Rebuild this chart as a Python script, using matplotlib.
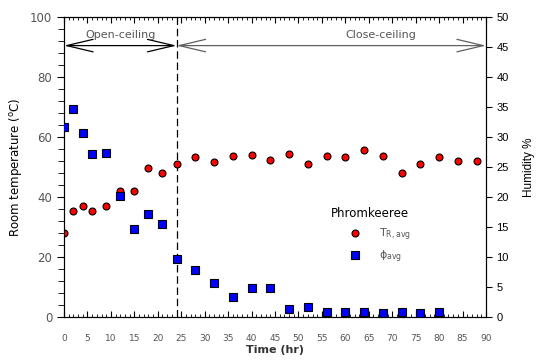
import matplotlib.pyplot as plt
from matplotlib.lines import Line2D
from matplotlib.ticker import MultipleLocator

# Temperature (left axis)
t_temp = [0, 2, 4, 6, 9, 12, 15, 18, 21, 24, 28, 32, 36, 40, 44, 48, 52, 56, 60, 64, 68, 72, 76, 80, 84, 88]
temp = [28.1, 35.3, 37.1, 35.2, 36.9, 41.9, 41.9, 49.6, 48.0, 50.9, 53.2, 51.8, 53.7, 53.9, 52.3,
        54.4, 51.0, 53.7, 53.3, 55.6, 53.7, 48.0, 51.0, 53.3, 52.1, 52.0]

# Humidity (right axis)
t_hum = [0, 2, 4, 6, 9, 12, 15, 18, 21, 24, 28, 32, 36, 40, 44, 48, 52, 56, 60, 64, 68, 72, 76, 80]
hum = [31.7, 34.7, 30.7, 27.2, 27.4, 20.2, 14.6, 17.1, 15.5, 9.7, 7.9, 5.6, 3.4, 4.9, 4.8,
       1.3, 1.7, 0.9, 0.8, 0.8, 0.75, 0.8, 0.75, 0.85]

fig = plt.figure(figsize=(5.4, 3.64), dpi=100)
ax = fig.add_axes([0.1185, 0.129, 0.7815, 0.824])
ax2 = ax.twinx()

ax.plot(t_temp, temp, 'o', color='red', mec='black', mew=0.8, ms=5, zorder=3)
ax2.plot(t_hum, hum, 's', color='#0000ff', mec='black', mew=0.8, ms=5.5, zorder=3)

ax.set_xlim(0, 90)
ax.set_ylim(0, 100)
ax2.set_ylim(0, 50)

# x ticks
ax.xaxis.set_major_locator(MultipleLocator(5))
ax.xaxis.set_minor_locator(MultipleLocator(1))
ax.tick_params(axis='x', which='both', direction='in', top=True, pad=12,
               labelsize=6.5, labelcolor='#555555')
ax.tick_params(axis='x', which='major', length=4)
ax.tick_params(axis='x', which='minor', length=2.5)

# left y ticks
ax.yaxis.set_major_locator(MultipleLocator(20))
ax.yaxis.set_minor_locator(MultipleLocator(4))
ax.tick_params(axis='y', which='both', direction='out', labelsize=8.5, labelcolor='#555555')
ax.tick_params(axis='y', which='major', length=5)
ax.tick_params(axis='y', which='minor', length=4)

# right y ticks
ax2.yaxis.set_major_locator(MultipleLocator(5))
ax2.tick_params(axis='y', direction='out', length=4, labelsize=8)
for lab in ax2.get_yticklabels():
    lab.set_family('Liberation Sans')

ax.set_xlabel('Time (hr)', fontsize=8, fontweight='bold', color='#333333', labelpad=2)
ax.set_ylabel('Room temperature ($\\mathregular{^oC}$)', fontsize=8.5, labelpad=4)
ax2.set_ylabel('Humidity %', fontsize=8.5, family='Liberation Sans', labelpad=10)

# open / close ceiling markers
ax.axvline(24, color='black', ls=(0, (6, 3)), lw=0.9)
style = '<->,head_length=1.9,head_width=0.45'
ax.annotate('', xy=(0, 90.5), xytext=(24, 90.5),
            arrowprops=dict(arrowstyle=style, color='black', lw=0.9,
                            shrinkA=0, shrinkB=0, mutation_scale=10))
ax.annotate('', xy=(24, 90.5), xytext=(90, 90.5),
            arrowprops=dict(arrowstyle=style, color='#606060', lw=0.9,
                            shrinkA=0, shrinkB=0, mutation_scale=10))
ax.text(12, 94, 'Open-ceiling', ha='center', va='center', fontsize=8, color='#555555')
ax.text(67.5, 94, 'Close-ceiling', ha='center', va='center', fontsize=8, color='#555555')

handles = [Line2D([], [], ls='', marker='o', color='red', mec='black', mew=0.8, ms=5),
           Line2D([], [], ls='', marker='s', color='#0000ff', mec='black', mew=0.8, ms=5.5)]
leg = ax2.legend(handles, ['T$_\\mathregular{R,avg}$', 'ϕ$_\\mathregular{avg}$'], title='Phromkeeree',
                 frameon=False, loc='upper left', bbox_to_anchor=(0.62, 0.385), fontsize=8,
                 title_fontsize=8.5, handletextpad=0.1, labelspacing=0.55, alignment='left',
                 borderpad=0, handlelength=4.2)
for txt in leg.get_texts():
    txt.set_color('#555555')

fig.savefig('out.png', dpi=100)
